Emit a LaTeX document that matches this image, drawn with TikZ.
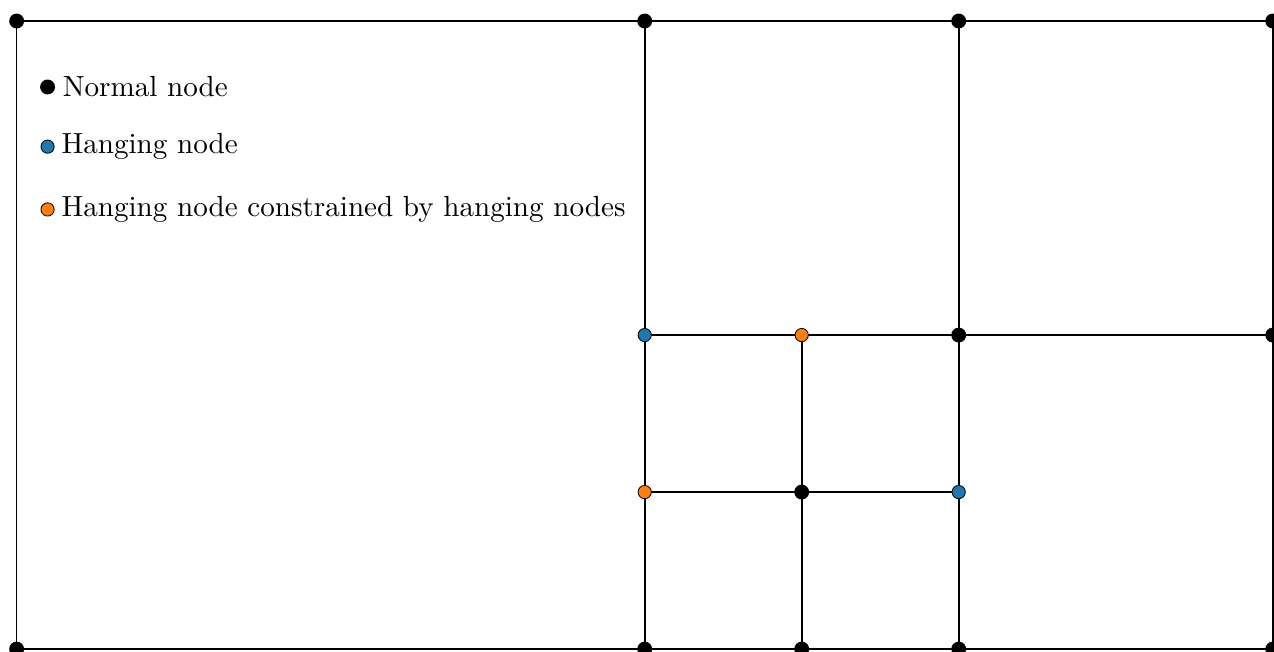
\documentclass[tikz,border=0pt]{standalone}
\usepackage{tikz}
\usetikzlibrary{positioning}
\definecolor{HangBlue}{RGB}{31,119,180}
\definecolor{HangOrange}{RGB}{255,127,14}

\begin{document}
\begin{tikzpicture}[x=2cm,y=2cm,line width=0.6pt,
  normaldot/.style={circle,fill=black,inner sep=0pt,minimum size=5.4pt},
  hangdot/.style={circle,fill=HangBlue,draw=black,line width=0.3pt,inner sep=0pt,minimum size=4.8pt},
  cstrdot/.style={circle,fill=HangOrange,draw=black,line width=0.3pt,inner sep=0pt,minimum size=4.8pt},
  legtext/.style={right=2.2pt of #1,inner sep=0pt,font=\fontsize{10.55}{12.5}\selectfont}]
\useasboundingbox (-0.106,-0.017) rectangle (8.008,4.134);
% mesh vertices
\coordinate (p00) at (0,0);\coordinate (p40) at (4,0);\coordinate (p50) at (5,0);
\coordinate (p60) at (6,0);\coordinate (p80) at (8,0);
\coordinate (p41) at (4,1);\coordinate (p51) at (5,1);\coordinate (p61) at (6,1);
\coordinate (p42) at (4,2);\coordinate (p52) at (5,2);\coordinate (p62) at (6,2);\coordinate (p82) at (8,2);
\coordinate (p04) at (0,4);\coordinate (p44) at (4,4);\coordinate (p64) at (6,4);\coordinate (p84) at (8,4);
% cells
\draw (p00)--(p80)--(p84)--(p04)--cycle;
\draw (p40)--(p44);\draw (p60)--(p64);\draw (p42)--(p82);
\draw (p50)--(p52);\draw (p41)--(p61);
% vertices
\foreach \p in {p00,p40,p50,p60,p80,p51,p62,p82,p04,p44,p64,p84}
  \node[normaldot] (v\p) at (\p) {};
\foreach \p in {p42,p61} \node[hangdot] (v\p) at (\p) {};
\foreach \p in {p52,p41} \node[cstrdot] (v\p) at (\p) {};
% legend
\node[normaldot] (lgnormal) at (0.197,3.58) {};
\node[legtext=lgnormal] {Normal node};
\node[hangdot] (lghang) at (0.197,3.20) {};
\node[legtext=lghang] {Hanging node};
\node[cstrdot] (lgcstr) at (0.197,2.80) {};
\node[legtext=lgcstr] {Hanging node constrained by hanging nodes};
\end{tikzpicture}
\end{document}
